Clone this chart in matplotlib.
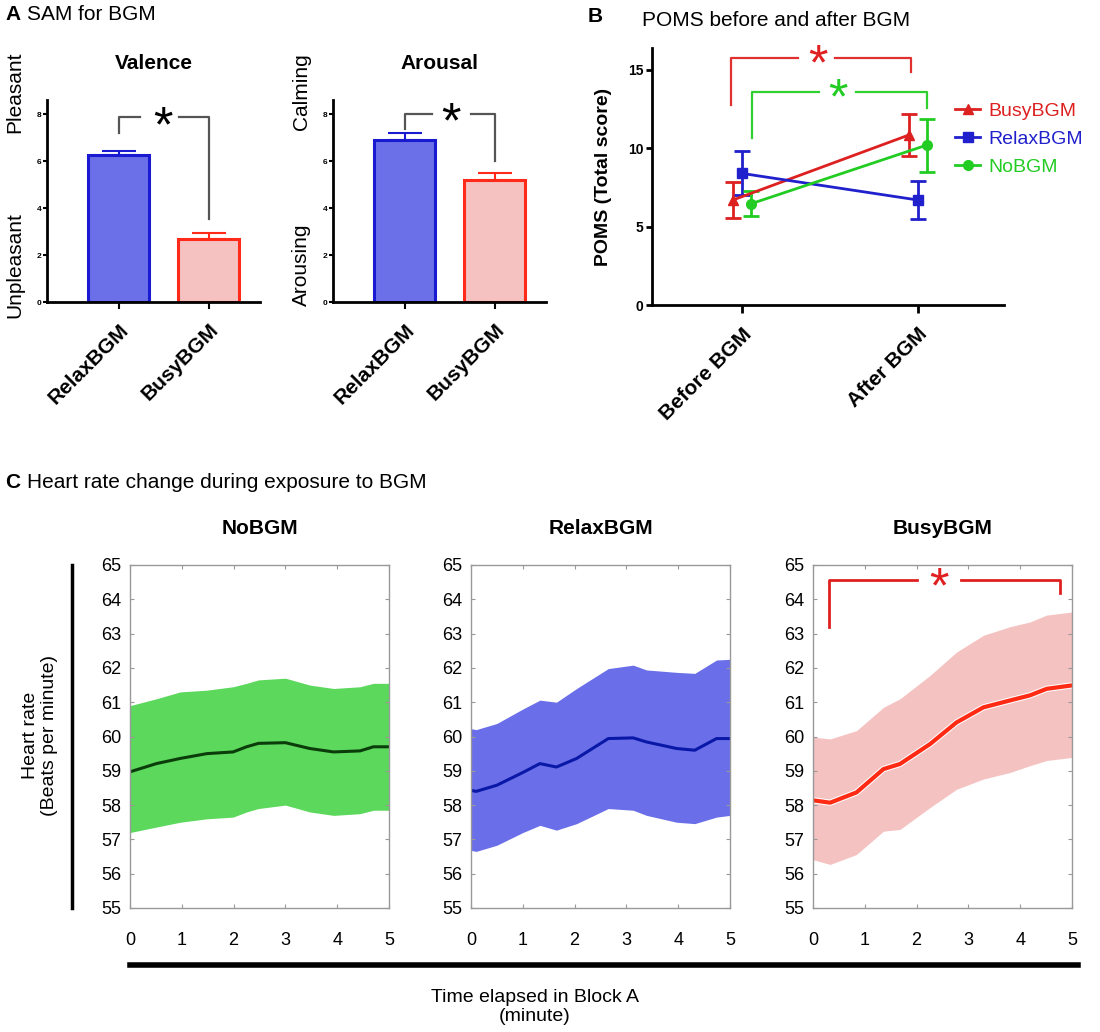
import numpy as np
import matplotlib
matplotlib.use("Agg")
import matplotlib.pyplot as plt
from matplotlib.lines import Line2D
import matplotlib.patheffects as pe

plt.rcParams['font.family'] = ['Liberation Sans', 'DejaVu Sans']

# ---- Panel A: SAM ratings ----
sam_groups = ['RelaxBGM', 'BusyBGM']
valence_mean = [6.25, 2.7]
valence_err = [0.2, 0.25]
arousal_mean = [6.9, 5.2]
arousal_err = [0.3, 0.3]

# ---- Panel B: POMS ----
poms_times = ['Before BGM', 'After BGM']
poms_busy = [6.7, 10.85]
poms_busy_err = [1.15, 1.35]
poms_relax = [8.4, 6.7]
poms_relax_err = [1.4, 1.2]
poms_no = [6.45, 10.2]
poms_no_err = [0.8, 1.7]

# ---- Panel C: heart rate (mean and band) ----
no_t = [0, 0.51, 0.97, 1.48, 1.99, 2.25, 2.48, 3.0, 3.47, 3.93, 4.44, 4.7, 5]
no_mean = [58.97, 59.21, 59.36, 59.5, 59.55, 59.7, 59.8, 59.82, 59.65, 59.55, 59.58, 59.7, 59.7]
no_upper = [60.9, 61.1, 61.3, 61.35, 61.45, 61.55, 61.65, 61.7, 61.5, 61.4, 61.45, 61.55, 61.55]
no_lower = [57.2, 57.36, 57.5, 57.6, 57.65, 57.8, 57.9, 58.0, 57.8, 57.7, 57.75, 57.85, 57.85]

relax_t = [0, 0.1, 0.5, 1.0, 1.33, 1.65, 2.04, 2.65, 3.13, 3.39, 3.97, 4.32, 4.74, 5]
relax_mean = [58.43, 58.4, 58.58, 58.95, 59.21, 59.11, 59.36, 59.94, 59.96, 59.84, 59.65, 59.6, 59.94, 59.94]
relax_upper = [60.23, 60.2, 60.38, 60.8, 61.06, 61.0, 61.4, 61.98, 62.08, 61.94, 61.87, 61.84, 62.23, 62.25]
relax_lower = [56.68, 56.65, 56.83, 57.2, 57.41, 57.27, 57.46, 57.9, 57.85, 57.7, 57.5, 57.46, 57.65, 57.7]

busy_t = [0, 0.33, 0.84, 1.36, 1.68, 2.26, 2.77, 3.29, 3.8, 4.19, 4.51, 5]
busy_mean = [58.14, 58.07, 58.37, 59.05, 59.2, 59.78, 60.41, 60.85, 61.05, 61.2, 61.39, 61.49]
busy_upper = [59.98, 59.93, 60.17, 60.85, 61.1, 61.78, 62.46, 62.95, 63.2, 63.34, 63.54, 63.63]
busy_lower = [56.41, 56.27, 56.56, 57.24, 57.29, 57.93, 58.46, 58.76, 58.95, 59.15, 59.3, 59.39]

W, H = 1100, 1032
fig = plt.figure(figsize=(W / 100, H / 100), dpi=100)


def px_axes(l, t, r, b):
    return fig.add_axes([l / W, 1 - b / H, (r - l) / W, (b - t) / H])


def bracket(ax, x0, x1, y0, ytop, y1, gap0, gap1, color, lw=1.6):
    ax.plot([x0, x0, gap0], [y0, ytop, ytop], color=color, lw=lw, clip_on=False)
    ax.plot([gap1, x1, x1], [ytop, ytop, y1], color=color, lw=lw, clip_on=False)


blue_fill, blue_edge = '#6b6fe8', '#1a1ad0'
red_fill, red_edge = '#f5c1c1', '#ff2a1a'

# ---- Panel A ----
sam_panels = [
    (47, 'Valence', valence_mean, valence_err, ('Pleasant', 'Unpleasant'),
     (7.2, 7.87, 3.55, 0.23, 0.67, 0.49, 7.4)),
    (333, 'Arousal', arousal_mean, arousal_err, ('Calming', 'Arousing'),
     (7.35, 8.0, 6.0, 0.3, 0.73, 0.51, 7.55)),
]
for left, title, vals, errs, (top_lab, bot_lab), br in sam_panels:
    ax = px_axes(left, 100, left + 213, 302)
    x = np.arange(len(sam_groups))
    ax.bar(x, vals, width=0.68, color=[blue_fill, red_fill],
           edgecolor=[blue_edge, red_edge], linewidth=2.2, zorder=2)
    for xi, v, e, c in zip(x, vals, errs, [blue_edge, red_edge]):
        ax.errorbar(xi, v, yerr=[[0], [e]], color=c, capsize=12, capthick=1.5,
                    elinewidth=1.5, zorder=3)
    ax.set_xlim(-0.8, 1.57)
    ax.set_ylim(0, 8.6)
    ax.set_yticks([0, 2, 4, 6, 8])
    ax.set_xticks(x)
    ax.set_xticklabels(sam_groups, rotation=45, ha='right', va='top',
                       rotation_mode='anchor', fontsize=15, fontweight='bold')
    ax.tick_params(axis='y', labelsize=6, length=3, width=1.5, pad=1)
    ax.tick_params(axis='x', length=5, width=1.5, pad=8)
    for lab in ax.get_yticklabels():
        lab.set_fontweight('bold')
    for s in ['top', 'right']:
        ax.spines[s].set_visible(False)
    for s in ['left', 'bottom']:
        ax.spines[s].set_linewidth(2)
    ax.set_title(title, fontsize=15, fontweight='bold', pad=22)
    y0, ytop, y1, g0, g1, sx, sy = br
    bracket(ax, 0, 1, y0, ytop, y1, g0, g1, '#555555')
    ax.text(sx, sy, '*', fontsize=36, ha='center', va='center', color='black')
    fig.text((left - 32) / W, 1 - 92 / H, top_lab, rotation=90, ha='center',
             va='center', fontsize=15)
    fig.text((left - 32) / W, 1 - 265 / H, bot_lab, rotation=90, ha='center',
             va='center', fontsize=15)

fig.text(5 / W, 1 - 14 / H, 'A', fontsize=15, fontweight='bold', va='center')
fig.text(27 / W, 1 - 14 / H, 'SAM for BGM', fontsize=15, va='center')

# ---- Panel B ----
axb = px_axes(652, 48, 1004, 305)
xb = np.arange(len(poms_times))
series = [
    ('BusyBGM', poms_busy, poms_busy_err, '#dd2020', '^', -0.05),
    ('RelaxBGM', poms_relax, poms_relax_err, '#2020cc', 's', 0.0),
    ('NoBGM', poms_no, poms_no_err, '#22cc22', 'o', 0.05),
]
handles = []
for name, vals, errs, c, m, off in series:
    axb.errorbar(xb + off, vals, yerr=errs, color=c, marker=m, markersize=7,
                 lw=2, capsize=6, capthick=2, elinewidth=2)
    handles.append(Line2D([], [], color=c, marker=m, markersize=7, lw=2, label=name))
axb.set_xlim(-0.51, 1.49)
axb.set_ylim(0, 16.4)
axb.set_yticks([0, 5, 10, 15])
axb.set_xticks(xb)
axb.set_xticklabels(poms_times, rotation=45, ha='right', va='top',
                    rotation_mode='anchor', fontsize=15, fontweight='bold')
axb.tick_params(axis='y', labelsize=10, length=4, width=2, pad=2)
axb.tick_params(axis='x', length=6, width=2, pad=8)
for lab in axb.get_yticklabels():
    lab.set_fontweight('bold')
for s in ['top', 'right']:
    axb.spines[s].set_visible(False)
for s in ['left', 'bottom']:
    axb.spines[s].set_linewidth(2)
axb.set_ylabel('POMS (Total score)', fontsize=14, fontweight='bold', labelpad=12)
bracket(axb, -0.06, 0.96, 12.75, 15.75, 14.9, 0.32, 0.53, '#e03030')
axb.text(0.43, 15.2, '*', fontsize=36, ha='center', va='center', color='#e02020')
bracket(axb, 0.06, 1.05, 10.65, 13.6, 12.6, 0.44, 0.65, '#30d030')
axb.text(0.545, 13.05, '*', fontsize=36, ha='center', va='center', color='#22cc22')
leg = fig.legend(handles=handles, loc='upper left', bbox_to_anchor=(955 / W, 1 - 102 / H),
                 frameon=False, fontsize=14, handlelength=1.3, handletextpad=0.4,
                 labelspacing=0.55, borderpad=0, borderaxespad=0)
for txt, (_, _, _, c, _, _) in zip(leg.get_texts(), series):
    txt.set_color(c)
fig.text(588 / W, 1 - 16 / H, 'B', fontsize=15, fontweight='bold', va='center')
fig.text(642 / W, 1 - 20 / H, 'POMS before and after BGM', fontsize=15, va='center')

# ---- Panel C ----
fig.text(5 / W, 1 - 483 / H, 'C', fontsize=15, fontweight='bold', va='center')
fig.text(27 / W, 1 - 483 / H, 'Heart rate change during exposure to BGM', fontsize=15,
         va='center')
hr_panels = [
    (130, 'NoBGM', no_t, no_mean, no_upper, no_lower, '#5cd85c', '#0b3d0b', 2.2),
    (471, 'RelaxBGM', relax_t, relax_mean, relax_upper, relax_lower, '#6a6ee8', '#0a18a8', 2.2),
    (813, 'BusyBGM', busy_t, busy_mean, busy_upper, busy_lower, '#f5c2c2', '#ff2a14', 3),
]
hr_axes = []
for left, title, t, m, up, lo, band_c, line_c, lw in hr_panels:
    ax = px_axes(left, 565, left + 259, 908)
    ax.fill_between(t, lo, up, color=band_c, lw=0)
    ln, = ax.plot(t, m, color=line_c, lw=lw)
    if title == 'BusyBGM':
        ln.set_path_effects([pe.Stroke(linewidth=lw + 1.5, foreground='white'), pe.Normal()])
    ax.set_xlim(0, 5)
    ax.set_ylim(55, 65)
    ax.set_xticks(range(0, 6))
    ax.set_yticks(range(55, 66))
    ax.tick_params(direction='in', top=True, right=True, length=3, color='#999999',
                   labelsize=13)
    ax.tick_params(axis='x', pad=17)
    ax.tick_params(axis='y', pad=6)
    for s in ax.spines.values():
        s.set_color('#999999')
        s.set_linewidth(1)
    ax.set_title(title, fontsize=15, fontweight='bold', pad=22)
    hr_axes.append(ax)

# significance bracket on BusyBGM
ax_busy = hr_axes[-1]
bracket(ax_busy, 0.3, 4.77, 63.2, 64.56, 64.17, 2.0, 2.85, '#e02020', lw=2)
ax_busy.text(2.43, 64.3, '*', fontsize=36, ha='center', va='center', color='#e02020')

fig.add_artist(Line2D([72 / W, 72 / W], [1 - 565 / H, 1 - 908 / H], color='black', lw=2.5))
fig.add_artist(Line2D([130 / W, 1078 / W], [1 - 965 / H, 1 - 965 / H], color='black', lw=4))
fig.text(40 / W, 1 - 735 / H, 'Heart rate\n(Beats per minute)', rotation=90, ha='center',
         va='center', fontsize=14, linespacing=1.1)
fig.text(535 / W, 1 - 1007 / H, 'Time elapsed in Block A\n(minute)', ha='center',
         va='center', fontsize=14, linespacing=1.2)

fig.savefig('out.png', dpi=100)
